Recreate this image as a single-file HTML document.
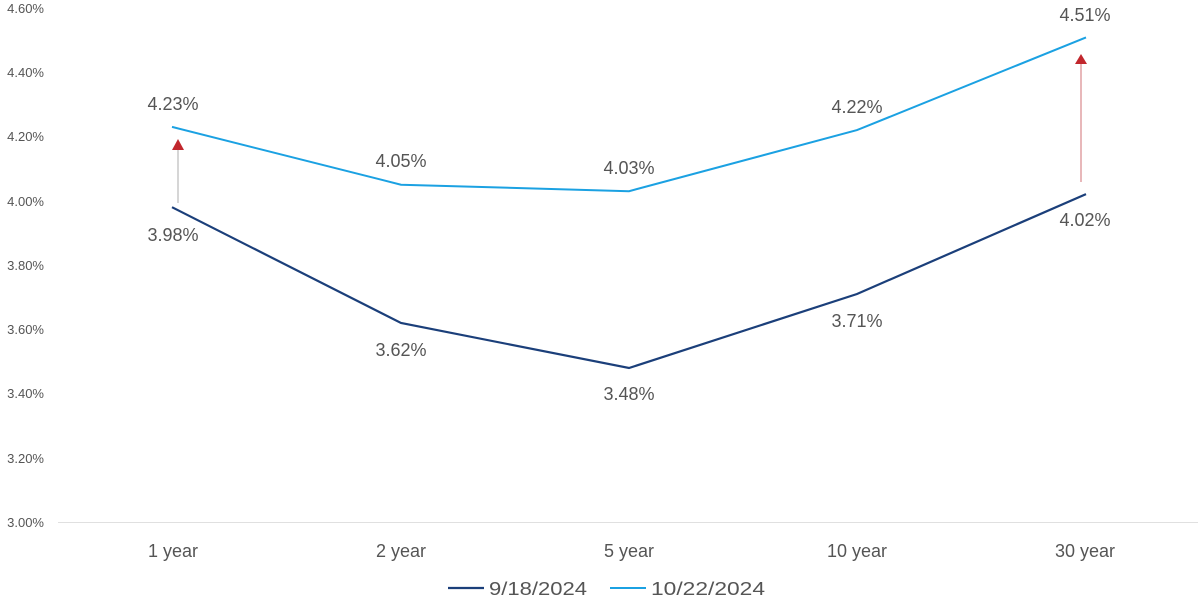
<!DOCTYPE html>
<html><head><meta charset="utf-8"><style>
html,body{margin:0;padding:0;background:#fff;}
svg{display:block;}
text{font-family:"Liberation Sans",sans-serif;fill:#555;}
</style></head><body>
<svg width="1200" height="600" viewBox="0 0 1200 600">
<g font-size="13" text-anchor="end">
<text x="44" y="13">4.60%</text>
<text x="44" y="77">4.40%</text>
<text x="44" y="141">4.20%</text>
<text x="44" y="206">4.00%</text>
<text x="44" y="270">3.80%</text>
<text x="44" y="334">3.60%</text>
<text x="44" y="398">3.40%</text>
<text x="44" y="463">3.20%</text>
<text x="44" y="527">3.00%</text>
</g>
<line x1="58" y1="522.5" x2="1198" y2="522.5" stroke="#e0e0e0" stroke-width="1"/>
<g font-size="18" text-anchor="middle">
<text x="173" y="557">1 year</text>
<text x="401" y="557">2 year</text>
<text x="629" y="557">5 year</text>
<text x="857" y="557">10 year</text>
<text x="1085" y="557">30 year</text>
</g>
<line x1="178" y1="203" x2="178" y2="150" stroke="#c8c8c8" stroke-width="1.5"/>
<polygon points="172,150 184,150 178,139" fill="#c1272d"/>
<line x1="1081" y1="182" x2="1081" y2="64" stroke="#d9888c" stroke-width="1.2"/>
<polygon points="1075,64 1087,64 1081,54" fill="#c1272d"/>
<polyline points="172,126.9 401,184.7 629,191.2 857,130.1 1086,37.4" fill="none" stroke="#1ba1e2" stroke-width="2"/>
<polyline points="172,207.2 401,323.0 629,368.0 857,294.0 1086,194.1" fill="none" stroke="#1b3f7a" stroke-width="2.2"/>
<g font-size="18" text-anchor="middle">
<text x="173" y="110">4.23%</text>
<text x="401" y="167">4.05%</text>
<text x="629" y="174">4.03%</text>
<text x="857" y="113">4.22%</text>
<text x="1085" y="21">4.51%</text>
<text x="173" y="241">3.98%</text>
<text x="401" y="356">3.62%</text>
<text x="629" y="400">3.48%</text>
<text x="857" y="327">3.71%</text>
<text x="1085" y="226">4.02%</text>
</g>
<line x1="448" y1="588" x2="484" y2="588" stroke="#1b3f7a" stroke-width="2.2"/>
<text x="489" y="595" font-size="18" textLength="98" lengthAdjust="spacingAndGlyphs">9/18/2024</text>
<line x1="610" y1="588" x2="646" y2="588" stroke="#1ba1e2" stroke-width="2"/>
<text x="651" y="595" font-size="18" textLength="114" lengthAdjust="spacingAndGlyphs">10/22/2024</text>
</svg>
</body></html>
